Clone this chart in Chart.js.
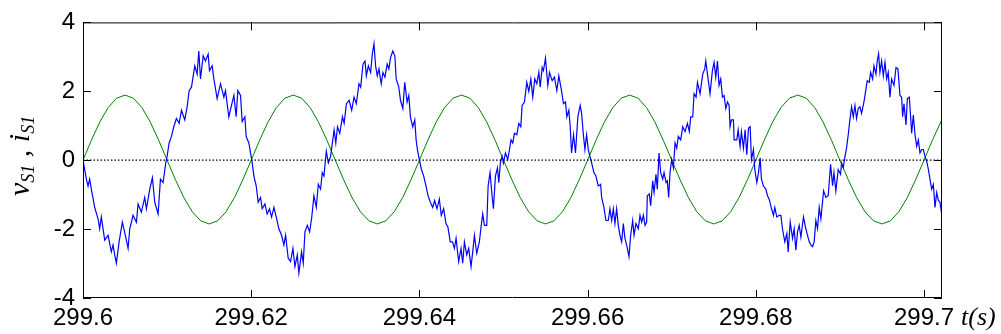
<!DOCTYPE html>
<html>
<head>
<meta charset="utf-8">
<script src="https://cdn.jsdelivr.net/npm/chart.js@4/dist/chart.umd.min.js"></script>
<style>
  html, body { margin: 0; padding: 0; background: #fff; }
  #wrap { width: 1001px; height: 334px; }
</style>
</head>
<body>
<div id="wrap"><canvas id="wave-chart" width="1001" height="334"></canvas></div>
<script>
// time origin of the window, in seconds
let tStart = 299.6
let tEnd = 299.70214

let xTicks = [299.6, 299.62, 299.64, 299.66, 299.68, 299.7]
let xTickLabels = ['299.6', '299.62', '299.64', '299.66', '299.68', '299.7']
let yTicks = [-4, -2, 0, 2, 4]

// green trace (v_S1), read every 1 ms (offset from 299.6 s)
let greenMs = [
  0, 1, 2, 3, 4, 5, 6, 7, 8, 9, 10, 11, 12, 13, 14, 15, 16, 17, 18, 19,
  20, 21, 22, 23, 24, 25, 26, 27, 28, 29, 30, 31, 32, 33, 34, 35, 36, 37, 38, 39,
  40, 41, 42, 43, 44, 45, 46, 47, 48, 49, 50, 51, 52, 53, 54, 55, 56, 57, 58, 59,
  60, 61, 62, 63, 64, 65, 66, 67, 68, 69, 70, 71, 72, 73, 74, 75, 76, 77, 78, 79,
  80, 81, 82, 83, 84, 85, 86, 87, 88, 89, 90, 91, 92, 93, 94, 95, 96, 97, 98, 99,
  100, 101, 102, 103
]
let greenVal = [
  0, 0.58, 1.11, 1.53, 1.80, 1.89, 1.80, 1.53, 1.11, 0.58, 0, -0.57, -1.09, -1.50, -1.76, -1.85, -1.76, -1.50, -1.09, -0.57,
  0, 0.58, 1.11, 1.53, 1.80, 1.89, 1.80, 1.53, 1.11, 0.58, 0, -0.57, -1.09, -1.50, -1.76, -1.85, -1.76, -1.50, -1.09, -0.57,
  0, 0.58, 1.11, 1.53, 1.80, 1.89, 1.80, 1.53, 1.11, 0.58, 0, -0.57, -1.09, -1.50, -1.76, -1.85, -1.76, -1.50, -1.09, -0.57,
  0, 0.58, 1.11, 1.53, 1.80, 1.89, 1.80, 1.53, 1.11, 0.58, 0, -0.57, -1.09, -1.50, -1.76, -1.85, -1.76, -1.50, -1.09, -0.57,
  0, 0.58, 1.11, 1.53, 1.80, 1.89, 1.80, 1.53, 1.11, 0.58, 0, -0.57, -1.09, -1.50, -1.76, -1.85, -1.76, -1.50, -1.09, -0.57,
  0, 0.58, 1.11, 1.53
]

// blue trace (i_S1) (ms offset from 299.6 s)
let blueMs = [
  0.00, 0.40, 0.60, 0.79, 0.99, 1.39, 1.79, 1.98, 2.18, 2.58, 2.98, 3.37, 3.57, 3.77, 3.97, 4.29, 4.68, 5.08, 5.36, 5.56,
  5.95, 6.35, 6.55, 6.94, 7.34, 7.54, 7.94, 8.25, 8.53, 8.93, 9.21, 9.52, 9.84, 10.00, 10.24, 10.52, 10.79, 11.11, 11.43, 11.71,
  12.10, 12.38, 12.62, 12.90, 13.29, 13.57, 13.77, 13.97, 14.29, 14.56, 14.88, 15.04, 15.36, 15.56, 15.95, 16.35, 16.75, 16.94, 17.34, 17.66,
  17.94, 18.21, 18.41, 18.73, 18.93, 19.25, 19.40, 19.72, 19.92, 20.12, 20.32, 20.60, 20.83, 21.11, 21.31, 21.63, 21.90, 22.18, 22.42, 22.70,
  22.98, 23.29, 23.61, 23.89, 24.09, 24.40, 24.68, 24.96, 25.20, 25.48, 25.67, 25.99, 26.19, 26.39, 26.67, 26.94, 27.18, 27.46, 27.74, 27.98,
  28.25, 28.45, 28.65, 28.93, 29.17, 29.44, 29.86, 30.06, 30.26, 30.53, 30.85, 31.05, 31.32, 31.64, 31.95, 32.23, 32.50, 32.82, 33.02, 33.29,
  33.53, 33.69, 33.93, 34.20, 34.40, 34.60, 34.79, 34.99, 35.19, 35.46, 35.66, 35.90, 36.17, 36.37, 36.57, 36.84, 37.08, 37.24, 37.55, 37.75,
  38.03, 38.26, 38.54, 38.74, 38.93, 39.21, 39.45, 39.61, 39.76, 40.00, 40.24, 40.51, 40.79, 41.03, 41.30, 41.58, 41.81, 42.09, 42.37, 42.60,
  42.88, 43.16, 43.39, 43.67, 43.94, 44.16, 44.36, 44.67, 44.95, 45.15, 45.35, 45.63, 45.86, 46.14, 46.34, 46.54, 46.82, 47.13, 47.33, 47.53,
  47.73, 48.01, 48.17, 48.40, 48.64, 48.80, 49.04, 49.28, 49.44, 49.63, 49.83, 49.99, 50.23, 50.51, 50.71, 50.90, 51.10, 51.30, 51.58, 51.82,
  52.06, 52.21, 52.49, 52.77, 53.01, 53.25, 53.48, 53.72, 53.96, 54.20, 54.36, 54.60, 54.75, 54.99, 55.27, 55.47, 55.79, 56.06, 56.34, 56.58,
  56.86, 57.13, 57.37, 57.53, 57.77, 57.93, 58.09, 58.33, 58.56, 58.84, 59.12, 59.29, 59.48, 59.68, 59.88, 60.08, 60.28, 60.48, 60.75, 60.99,
  61.27, 61.55, 61.67, 61.94, 62.18, 62.46, 62.66, 62.86, 63.06, 63.25, 63.45, 63.65, 63.85, 64.05, 64.25, 64.44, 64.64, 64.92, 65.12, 65.36,
  65.52, 65.75, 66.03, 66.23, 66.43, 66.63, 66.83, 67.02, 67.10, 67.34, 67.50, 67.74, 67.90, 68.13, 68.29, 68.49, 68.69, 68.93, 69.09, 69.33,
  69.48, 69.64, 69.80, 70.00, 70.20, 70.40, 70.60, 70.79, 71.07, 71.31, 71.59, 71.87, 72.10, 72.26, 72.50, 72.66, 72.90, 73.06, 73.37, 73.69,
  73.93, 74.05, 74.25, 74.56, 74.84, 75.04, 75.24, 75.44, 75.63, 75.83, 76.03, 76.23, 76.43, 76.63, 76.83, 76.94, 77.10, 77.34, 77.42, 77.74,
  77.90, 78.13, 78.29, 78.53, 78.73, 78.93, 79.13, 79.33, 79.48, 79.72, 79.88, 80.12, 80.32, 80.52, 80.67, 80.91, 81.19, 81.39, 81.59, 81.87,
  82.10, 82.26, 82.50, 82.78, 82.98, 83.17, 83.45, 83.69, 83.85, 84.09, 84.37, 84.56, 84.76, 84.96, 85.16, 85.36, 85.67, 85.95, 86.15, 86.35,
  86.55, 86.75, 86.94, 87.14, 87.34, 87.54, 87.74, 88.06, 88.33, 88.61, 88.89, 89.13, 89.29, 89.52, 89.80, 90.08, 90.20, 90.40, 90.60, 90.79,
  90.99, 91.19, 91.39, 91.59, 91.79, 91.98, 92.18, 92.38, 92.58, 92.86, 93.10, 93.25, 93.49, 93.65, 93.89, 94.05, 94.29, 94.44, 94.60, 94.76,
  94.96, 95.16, 95.36, 95.56, 95.75, 95.95, 96.15, 96.43, 96.67, 96.90, 97.14, 97.34, 97.46, 97.62, 97.86, 98.02, 98.25, 98.41, 98.53, 98.73,
  98.93, 99.13, 99.33, 99.52, 99.72, 99.92, 100.12, 100.32, 100.52, 100.71, 100.91, 101.11, 101.31, 101.51, 101.71, 101.90, 102.10
]
let blueVal = [
  0.00, -0.55, -0.75, -0.55, -0.84, -1.37, -1.70, -1.99, -1.65, -2.32, -2.18, -2.66, -2.46, -2.75, -2.99, -2.37, -1.80, -2.23, -2.56, -1.99,
  -1.60, -1.80, -1.27, -1.51, -1.08, -1.41, -0.84, -0.51, -1.22, -1.56, -0.55, -0.65, -0.08, 0.11, 0.50, 0.69, 0.97, 1.21, 1.07, 1.45,
  1.17, 1.55, 2.02, 2.12, 2.74, 2.50, 3.17, 2.36, 3.03, 2.88, 3.08, 2.60, 2.74, 2.36, 1.79, 2.22, 1.83, 2.02, 1.26, 1.59,
  1.88, 1.26, 2.02, 1.88, 1.12, 1.26, 0.69, 0.50, 0.21, -0.08, -0.46, -0.75, -1.22, -1.08, -1.41, -1.27, -1.56, -1.41, -1.65, -1.37,
  -1.65, -1.99, -2.18, -2.46, -2.18, -2.85, -2.94, -2.56, -3.09, -2.75, -3.28, -2.66, -2.99, -2.08, -1.89, -2.08, -1.70, -1.03, -1.37, -0.70,
  -0.84, -0.36, -0.46, 0.26, -0.08, 0.11, 0.88, 0.50, 0.97, 0.78, 1.26, 1.07, 1.64, 1.74, 1.45, 1.83, 1.64, 2.22, 2.12, 2.79,
  2.88, 2.45, 2.74, 2.55, 3.08, 3.38, 2.74, 2.45, 2.65, 2.22, 2.55, 2.41, 2.79, 2.65, 2.98, 3.17, 3.03, 2.36, 2.12, 1.74,
  1.50, 2.26, 1.69, 1.88, 1.26, 0.97, 1.17, 0.59, 0.31, 0.00, -0.27, -0.46, -0.75, -1.03, -1.22, -1.37, -1.17, -1.41, -1.13, -1.60,
  -1.41, -1.84, -1.94, -2.37, -2.37, -2.56, -2.27, -2.94, -2.56, -2.99, -2.37, -2.75, -2.56, -3.09, -2.66, -2.18, -2.70, -2.37, -1.94, -1.56,
  -1.89, -1.89, -0.75, -0.36, -1.03, -1.41, -0.46, -0.22, -0.65, -0.08, 0.11, -0.08, 0.21, 0.02, 0.31, 0.59, 0.50, 0.78, 0.74, 1.07,
  0.97, 1.59, 1.69, 2.26, 2.00, 2.36, 1.83, 2.36, 2.22, 2.55, 2.12, 2.69, 2.60, 2.96, 2.17, 2.55, 2.31, 2.41, 2.02, 2.45,
  2.07, 1.64, 1.69, 1.26, 1.45, 0.97, 0.21, 0.74, 0.21, 1.26, 1.59, 1.36, 0.78, 0.31, 0.74, 0.31, 0.11, -0.08, -0.36, -0.46,
  -0.75, -0.70, -1.08, -1.37, -1.75, -1.75, -1.41, -1.75, -1.41, -1.84, -1.41, -1.89, -2.18, -2.37, -1.84, -2.27, -2.46, -2.80, -2.18, -1.75,
  -2.18, -1.84, -1.99, -1.60, -1.80, -1.60, -1.89, -1.80, -1.03, -0.98, -1.32, -0.60, -0.94, -0.41, -0.84, 0.21, -0.36, -0.55, -0.36, -0.65,
  -0.60, -1.08, -0.36, 0.02, -0.22, 0.50, 0.35, 0.69, 0.59, 0.97, 0.83, 1.07, 0.83, 1.26, 1.26, 1.93, 1.83, 2.26, 1.93, 2.50,
  2.65, 2.88, 2.50, 1.93, 2.60, 2.84, 2.41, 2.88, 2.17, 2.36, 1.83, 1.88, 1.50, 1.69, 1.59, 0.97, 1.17, 1.17, 0.59, 0.59,
  0.88, 0.40, 0.83, 0.35, 0.88, 0.16, 0.93, 0.97, 0.02, 0.31, -0.27, -0.65, -0.36, 0.07, -0.55, -0.75, -0.84, -1.03, -1.13, -1.41,
  -1.60, -1.37, -1.65, -1.60, -1.60, -1.99, -2.37, -2.13, -2.66, -1.80, -2.27, -1.99, -2.61, -2.08, -1.89, -2.23, -1.65, -1.99, -2.18, -2.37,
  -2.46, -2.51, -2.37, -1.75, -1.99, -1.37, -1.70, -0.89, -1.08, -1.03, -0.12, -0.74, -0.36, -0.89, -0.27, -0.41, -0.08, -0.22, 0.11, 0.35,
  0.74, 1.17, 1.55, 1.26, 1.59, 1.21, 1.50, 1.55, 1.36, 1.69, 2.07, 2.31, 2.26, 2.55, 2.36, 2.74, 2.50, 2.88, 3.09, 2.55,
  2.88, 2.45, 2.84, 2.36, 2.55, 1.83, 2.36, 2.17, 2.69, 2.65, 1.88, 1.83, 1.26, 1.64, 1.02, 1.79, 1.83, 1.26, 0.78, 1.31,
  0.74, 0.40, 0.59, 0.21, 0.31, 0.31, 0.11, -0.03, -0.27, -0.55, -0.84, -0.70, -1.37, -0.94, -1.17, -1.22, -1.56
]

let toPoints = (ms, vals) => ms.map((m, i) => ({ x: tStart + m / 1000, y: vals[i] }))

let tickFont = { family: "'Liberation Sans', Arial, sans-serif", size: 24 }

// box, inward tick marks and the two axis titles
let framePlugin = {
  id: 'frame',
  afterDraw(chart) {
    let c = chart.ctx
    let a = chart.chartArea
    let xs = chart.scales.x
    let ys = chart.scales.y
    let len = 8
    c.save()
    c.strokeStyle = '#000'
    c.lineWidth = 1
    c.beginPath()
    c.rect(a.left + 0.5, a.top + 0.5, a.right - a.left - 1, a.bottom - a.top - 1)
    xTicks.forEach(function(v) {
      let px = Math.round(xs.getPixelForValue(v)) + 0.5
      c.moveTo(px, a.bottom); c.lineTo(px, a.bottom - len)
      c.moveTo(px, a.top); c.lineTo(px, a.top + len)
    })
    yTicks.forEach(function(v) {
      let py = Math.round(ys.getPixelForValue(v)) + 0.5
      c.moveTo(a.left, py); c.lineTo(a.left + len, py)
      c.moveTo(a.right, py); c.lineTo(a.right - len, py)
    })
    c.stroke()

    // y title: v_S1 , i_S1 (rotated)
    c.fillStyle = '#000'
    c.translate(29, 196)
    c.rotate(-Math.PI / 2)
    c.textBaseline = 'alphabetic'
    let big = "italic 30px 'Liberation Serif', 'Times New Roman', serif"
    let small = "italic 18px 'Liberation Serif', 'Times New Roman', serif"
    let parts = [['v', big, 0], ['S', small, 5], ['1', small, 5], [' , ', big, 0], ['i', big, 0], ['S', small, 5], ['1', small, 5]]
    let x = 0
    parts.forEach(function(p) {
      c.font = p[1]
      c.fillText(p[0], x, p[2])
      x += c.measureText(p[0]).width
    })
    c.restore()

    // x title
    c.save()
    c.fillStyle = '#000'
    c.font = "italic 26px 'Liberation Serif', 'Times New Roman', serif"
    c.textBaseline = 'alphabetic'
    c.fillText('t(s)', 961, 325)
    c.restore()
  }
}

let chartCanvas = document.querySelector('#wave-chart')
let ctx = chartCanvas.getContext('2d')

let waveChart = new Chart(ctx, {
  type: 'line',
  data: {
    datasets: [
      {
        data: [{ x: tStart, y: 0 }, { x: tEnd, y: 0 }],
        borderColor: '#000',
        borderWidth: 1.3,
        borderDash: [1.5, 2],
        pointRadius: 0
      },
      {
        data: toPoints(blueMs, blueVal),
        borderColor: '#0000ff',
        borderWidth: 1.2,
        pointRadius: 0,
        tension: 0
      },
      {
        data: toPoints(greenMs, greenVal),
        borderColor: '#008000',
        borderWidth: 1,
        pointRadius: 0,
        tension: 0
      }
    ]
  },
  options: {
    responsive: false,
    animation: false,
    layout: { padding: { left: 0, right: 59, top: 18, bottom: 0 } },
    plugins: { legend: { display: false }, tooltip: { enabled: false } },
    scales: {
      x: {
        type: 'linear',
        min: tStart,
        max: tEnd,
        afterBuildTicks: function(scale) { scale.ticks = xTicks.map(v => ({ value: v })) },
        afterFit: function(scale) { scale.height = 36 },
        grid: { display: false, drawTicks: false },
        border: { display: false },
        ticks: {
          autoSkip: false,
          maxRotation: 0,
          padding: 6,
          color: '#000',
          font: tickFont,
          callback: function(v) {
            let i = xTicks.findIndex(t => Math.abs(t - v) < 1e-6)
            return i >= 0 ? xTickLabels[i] : ''
          }
        }
      },
      y: {
        min: -4,
        max: 4,
        afterBuildTicks: function(scale) { scale.ticks = yTicks.map(v => ({ value: v })) },
        afterFit: function(scale) { scale.width = 83 },
        grid: { display: false, drawTicks: false },
        border: { display: false },
        ticks: { padding: 8, color: '#000', font: tickFont }
      }
    }
  },
  plugins: [framePlugin]
})
</script>
</body>
</html>
